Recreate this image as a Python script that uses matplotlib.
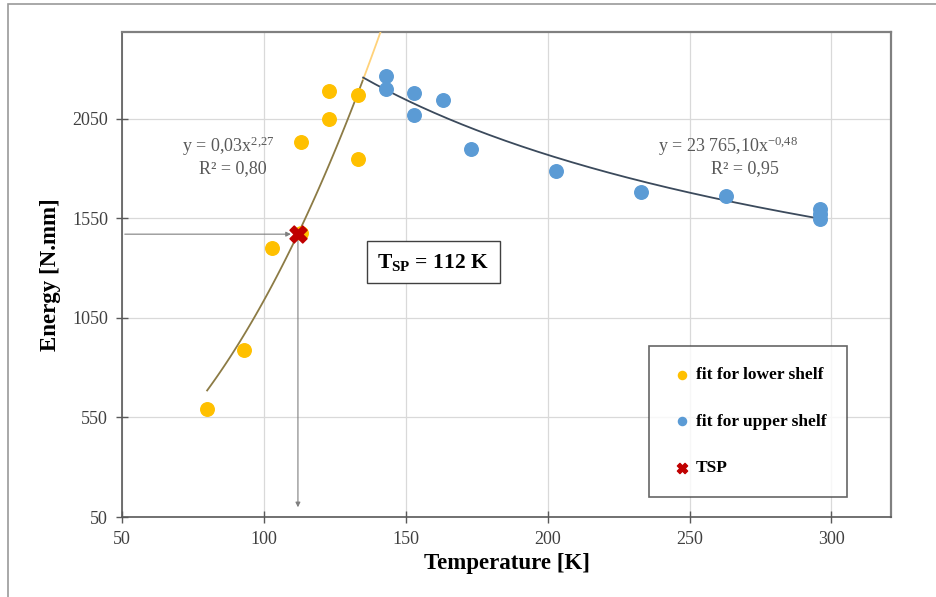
import matplotlib
matplotlib.use("Agg")
import matplotlib.pyplot as plt
import numpy as np
from matplotlib.patches import Rectangle

plt.rcParams['font.family'] = ['Liberation Serif', 'DejaVu Serif']
plt.rcParams['mathtext.fontset'] = 'custom'
plt.rcParams['mathtext.rm'] = 'Liberation Serif'
plt.rcParams['mathtext.it'] = 'Liberation Serif'
plt.rcParams['mathtext.bf'] = 'Liberation Serif:bold'

# ---- data ----
lower_T = [80, 93, 103, 113, 113, 123, 123, 133, 133]
lower_E = [590, 890, 1400, 1475, 1935, 2050, 2190, 2170, 1845]
upper_T = [143, 143, 153, 153, 163, 173, 203, 233, 263, 296, 296, 296]
upper_E = [2265, 2200, 2180, 2070, 2145, 1900, 1785, 1680, 1660, 1595, 1570, 1545]
tsp_T = 112
tsp_E = 1470
lower_fit = (0.0328, 2.27)      # y = a x^b (displayed as 0,03 x^2,27)
upper_fit = (23765.10, -0.48)
lower_range = (80, 135)
lower_ext = (135, 141.5)
upper_range = (135, 296)
xticks = [50, 100, 150, 200, 250, 300]
yticks = [50, 550, 1050, 1550, 2050]

fig = plt.figure(figsize=(9.36, 5.97), dpi=100)
# outer frame
fig.patches.append(Rectangle((8/936, -0.05), 1.2, 1 - 4/597 + 0.05, transform=fig.transFigure,
                             fill=False, edgecolor='#9a9a9a', linewidth=1.2))
ax = fig.add_axes([122/936, 1 - 517/597, (891-122)/936, (517-32)/597])

ax.set_xlim(50, 321)
ax.set_ylim(50, 2485)
ax.set_xticks(xticks)
ax.set_yticks(yticks)
ax.grid(True, color='#d9d9d9', linewidth=0.9)
ax.set_axisbelow(True)
ax.tick_params(direction='inout', length=8, width=1, color='#595959', labelsize=13,
               labelcolor='#404040', pad=6)
for s in ['left', 'bottom']:
    ax.spines[s].set_color('#595959'); ax.spines[s].set_linewidth(1.2)
for s in ['top', 'right']:
    ax.spines[s].set_color('#808080'); ax.spines[s].set_linewidth(1.6)

# fits
xl = np.linspace(*lower_range, 100)
ax.plot(xl, lower_fit[0] * xl ** lower_fit[1], color='#8c7b45', lw=1.3, zorder=3)
xe = np.linspace(*lower_ext, 30)
ax.plot(xe, lower_fit[0] * xe ** lower_fit[1], color='#ffd27a', lw=1.3, zorder=3, clip_on=True)
xu = np.linspace(*upper_range, 200)
ax.plot(xu, upper_fit[0] * xu ** upper_fit[1], color='#3b4a5c', lw=1.3, zorder=3)

ax.scatter(lower_T, lower_E, s=95, color='#FFC000', zorder=4, label='fit for lower shelf')
ax.scatter(upper_T, upper_E, s=95, color='#5B9BD5', zorder=4, label='fit for upper shelf')

# TSP guide lines
ax.annotate('', xy=(tsp_T - 1.5, tsp_E), xytext=(50, tsp_E),
            arrowprops=dict(arrowstyle='-|>', color='#7f7f7f', lw=0.8, mutation_scale=7), zorder=3)
ax.annotate('', xy=(tsp_T, 85), xytext=(tsp_T, tsp_E),
            arrowprops=dict(arrowstyle='-|>', color='#7f7f7f', lw=0.8, mutation_scale=7), zorder=3)
ax.scatter([tsp_T], [tsp_E], marker='X', s=150, color='#c00000', edgecolor='#c00000',
           zorder=5, label='TSP')

# equations
ax.text(87.5, 1910, r'y = 0,03x$^{2{,}27}$', ha='center', va='center', fontsize=13, color='#595959')
ax.text(89, 1800, 'R² = 0,80', ha='center', va='center', fontsize=13, color='#595959')
ax.text(263.5, 1910, r'y = 23 765,10x$^{-0{,}48}$', ha='center', va='center', fontsize=13, color='#595959')
ax.text(269.5, 1800, 'R² = 0,95', ha='center', va='center', fontsize=13, color='#595959')

ax.text(159.7, 1330, r'T$_{\mathbf{SP}}$ = 112 K', ha='center', va='center', fontsize=15.5,
        fontweight='bold', color='#000000',
        bbox=dict(boxstyle='square,pad=0.5', facecolor='white', edgecolor='#404040', lw=1))

ax.set_xlabel('Temperature [K]', fontsize=16.5, fontweight='bold', labelpad=4)
ax.set_ylabel('Energy [N.mm]', fontsize=16.5, fontweight='bold', labelpad=8)

leg = ax.legend(loc='lower right', bbox_to_anchor=((847-122)/769, (517-497)/485), frameon=True,
                fancybox=False, edgecolor='#404040', prop={'weight': 'bold', 'size': 12.5},
                labelspacing=1.75, handletextpad=0.1, borderpad=1.2, markerscale=0.6,
                handlelength=1.4, borderaxespad=0)
leg.get_frame().set_linewidth(1.2)

fig.savefig('out.png', dpi=100)
